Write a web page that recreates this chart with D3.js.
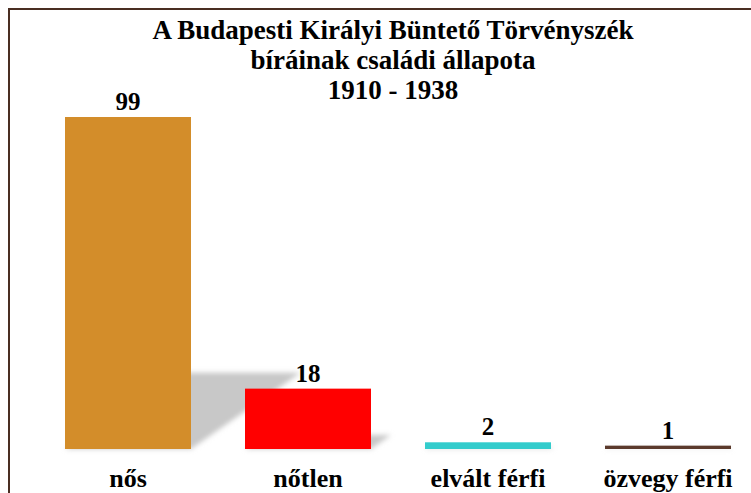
<!DOCTYPE html>
<html>
<head>
<meta charset="utf-8">
<script src="https://cdn.jsdelivr.net/npm/d3@7"></script>
<style>
  html, body { margin: 0; padding: 0; background: #fff; }
  svg { display: block; }
  text { font-family: "Liberation Serif", "Times New Roman", serif; font-weight: bold; fill: #000; }
</style>
</head>
<body>
<div id="chart"></div>
<script>
// adatok
var categories = ['nős', 'nőtlen', 'elvált férfi', 'özvegy férfi'];
var values = [99, 18, 2, 1];
var colors = ['#d38d2a', '#ff0000', '#33cccc', '#5b3a2c'];
var titleLines = ['A Budapesti Királyi Büntető Törvényszék', 'bíráinak családi állapota', '1910 - 1938'];

var width = 751;
var height = 493;
var baseY = 449;

var svg = d3.select('#chart').append('svg')
  .attr('width', width)
  .attr('height', height);

// árnyék elmosása
var defs = svg.append('defs');
defs.append('filter')
  .attr('id', 'blur')
  .attr('x', '-20%').attr('y', '-20%')
  .attr('width', '140%').attr('height', '140%')
  .append('feGaussianBlur')
  .attr('stdDeviation', 2.5);

// keret
svg.append('path')
  .attr('d', 'M9,' + height + 'V9H' + width)
  .attr('fill', 'none')
  .attr('stroke', '#4a2e22')
  .attr('stroke-width', 2);

var xScale = d3.scaleBand()
  .domain(categories)
  .range([38, 758])
  .paddingInner(0.3)
  .paddingOuter(0.15);

var yScale = d3.scaleLinear()
  .domain([0, 99])
  .range([baseY, 117]);

// cím
svg.append('g')
  .selectAll('text')
  .data(titleLines)
  .enter()
  .append('text')
  .attr('x', 393)
  .attr('y', function(d, i) { return 39 + i * 30; })
  .attr('text-anchor', 'middle')
  .style('font-size', '27px')
  .text(function(d) { return d; });

// árnyékok
var shadowLayer = svg.append('g').attr('filter', 'url(#blur)');
shadowLayer.selectAll('path')
  .data(values)
  .enter()
  .append('path')
  .attr('fill', '#c8c8c8')
  .attr('d', function(d, i) {
    var x0 = xScale(categories[i]);
    var x1 = x0 + xScale.bandwidth();
    var h = baseY - yScale(d);
    var dx = h * 0.33;
    var ty = baseY - h * 0.23;
    return 'M' + x0 + ',' + baseY + 'L' + x1 + ',' + baseY +
      'L' + (x1 + dx) + ',' + ty + 'L' + (x0 + dx) + ',' + ty + 'Z';
  });

// oszlopok
svg.append('g')
  .selectAll('rect')
  .data(values)
  .enter()
  .append('rect')
  .attr('x', function(d, i) { return xScale(categories[i]); })
  .attr('y', function(d) { return yScale(d); })
  .attr('width', xScale.bandwidth())
  .attr('height', function(d) { return baseY - yScale(d); })
  .attr('fill', function(d, i) { return colors[i]; });

// értékek
svg.append('g')
  .selectAll('text')
  .data(values)
  .enter()
  .append('text')
  .attr('x', function(d, i) { return xScale(categories[i]) + xScale.bandwidth() / 2; })
  .attr('y', function(d) { return yScale(d) - 7; })
  .attr('text-anchor', 'middle')
  .style('font-size', '25px')
  .text(function(d) { return d; });

// kategóriák
svg.append('g')
  .selectAll('text')
  .data(categories)
  .enter()
  .append('text')
  .attr('x', function(d) { return xScale(d) + xScale.bandwidth() / 2; })
  .attr('y', 487)
  .attr('text-anchor', 'middle')
  .style('font-size', '26px')
  .text(function(d) { return d; });
</script>
</body>
</html>
